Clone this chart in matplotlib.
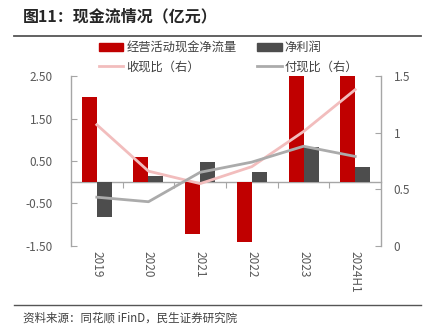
import numpy as np
import matplotlib
matplotlib.use("Agg")
import matplotlib.pyplot as plt
from matplotlib.patches import Patch
from matplotlib.lines import Line2D

plt.rcParams["font.family"] = ["Noto Sans CJK SC", "DejaVu Sans"]

years = ["2019", "2020", "2021", "2022", "2023", "2024H1"]
op_cash = [2.01, 0.60, -1.21, -1.42, 3.6, 3.3]      # 2023/2024H1 exceed axis, clipped
net_profit = [-0.81, 0.14, 0.48, 0.25, 0.83, 0.35]
recv_ratio = [1.07, 0.66, 0.55, 0.70, 1.01, 1.38]
pay_ratio = [0.43, 0.39, 0.65, 0.74, 0.88, 0.79]

RED = "#C00000"
DARK = "#4D4D4D"
PINK = "#F2BDBD"
GREY = "#ABABAB"
AX = "#A6A6A6"
TXT = "#595959"

fig = plt.figure(figsize=(4.38, 3.35), dpi=100)

fig.text(0.052, 0.952, "图11：现金流情况（亿元）", fontsize=11.5, fontweight="bold",
         color="#262626", va="center", ha="left")
fig.add_artist(Line2D([0.032, 0.962], [0.893, 0.893], color="#555555", lw=1.3,
                      transform=fig.transFigure))
fig.add_artist(Line2D([0.032, 0.962], [0.09, 0.09], color="#555555", lw=1.0,
                      transform=fig.transFigure))
fig.text(0.052, 0.051, "资料来源：同花顺 iFinD，民生证券研究院", fontsize=8.3,
         color="#404040", va="center", ha="left")

ax = fig.add_axes([0.162, 0.266, 0.708, 0.507])
x = np.arange(len(years))
w = 0.29
ax.bar(x - w / 2, op_cash, width=w, color=RED, zorder=2)
ax.bar(x + w / 2, net_profit, width=w, color=DARK, zorder=2)
ax.set_xlim(-0.5, len(years) - 0.5)
ax.set_ylim(-1.5, 2.5)
ax.set_yticks([-1.5, -0.5, 0.5, 1.5, 2.5])
ax.set_yticklabels([f"{v:.2f}" for v in [-1.5, -0.5, 0.5, 1.5, 2.5]])
ax.tick_params(axis="y", direction="in", length=4, color=AX, labelcolor=TXT,
               labelsize=8.5, pad=13)
ax.set_xticks(x)
ax.set_xticklabels(years, rotation=270, fontsize=8.5, color=TXT)
ax.tick_params(axis="x", length=0, pad=4)
for s in ["top", "bottom", "right"]:
    ax.spines[s].set_visible(False)
ax.spines["left"].set_color(AX)
ax.spines["left"].set_linewidth(1.0)

# zero line with category separators
zx = ax.secondary_xaxis(1.5 / 4.0)
zx.set_xticks(np.arange(len(years) - 1) + 0.5)
zx.set_xticklabels([])
zx.tick_params(direction="out", length=4, color=AX)
zx.spines["bottom"].set_color(AX)
zx.spines["bottom"].set_linewidth(1.0)

ax2 = ax.twinx()
ax2.plot(x, recv_ratio, color=PINK, lw=2.0, zorder=3)
ax2.plot(x, pay_ratio, color=GREY, lw=2.0, zorder=3)
ax2.set_ylim(0, 1.5)
ax2.set_yticks([0, 0.5, 1, 1.5])
ax2.set_yticklabels(["0", "0.5", "1", "1.5"])
ax2.tick_params(axis="y", direction="in", length=4, color=AX, labelcolor=TXT,
                labelsize=8.5, pad=9)
for s in ["top", "bottom", "left"]:
    ax2.spines[s].set_visible(False)
ax2.spines["right"].set_color(AX)
ax2.spines["right"].set_linewidth(1.0)

handles = [Patch(color=RED), Line2D([], [], color=PINK, lw=2),
           Patch(color=DARK), Line2D([], [], color=GREY, lw=2)]
labels = ["经营活动现金净流量", "收现比（右）", "净利润", "付现比（右）"]
fig.legend(handles, labels, ncol=2, loc="upper left", bbox_to_anchor=(0.2, 0.91),
           frameon=False, fontsize=8.8, handlelength=2.0, handleheight=0.55,
           handletextpad=0.25, columnspacing=1.7, labelspacing=0.5,
           labelcolor="#404040")

fig.savefig("out.png", dpi=100)
